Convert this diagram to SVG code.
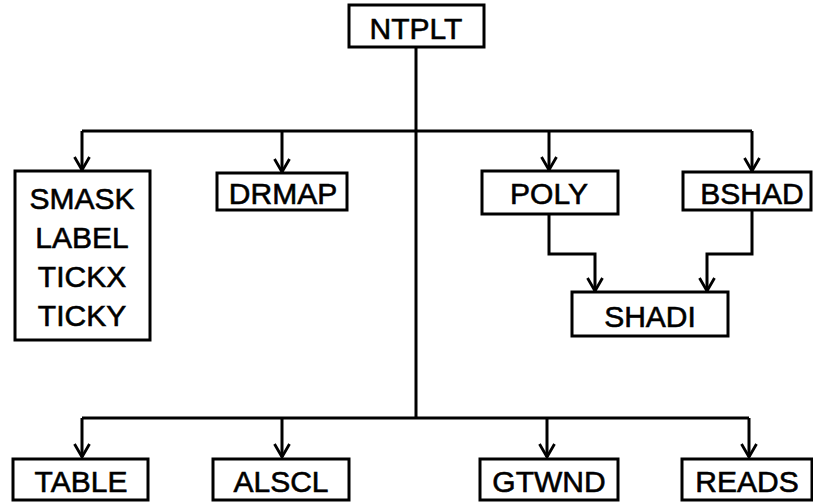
<svg xmlns="http://www.w3.org/2000/svg" width="813" height="502" viewBox="0 0 813 502">
<style>
.box{fill:#fff;stroke:#000;stroke-width:3}
.lbl{font-family:"Liberation Sans",Arial,sans-serif;font-size:30px;fill:#000;stroke:#000;stroke-width:0.6;text-anchor:middle}
.con{fill:none;stroke:#000;stroke-width:3}
</style>
<defs>
<marker id="arr" viewBox="-15 -9 17 18" refX="0" refY="0" markerWidth="17" markerHeight="18" markerUnits="userSpaceOnUse" orient="auto">
<path d="M-13,-7.5 L0,0 L-13,7.5" fill="none" stroke="#000" stroke-width="2.8"/>
</marker>
</defs>
<rect width="813" height="502" fill="#fff"/>
<g id="connectors">
<path class="con" d="M416,47 V418"/>
<path class="con" d="M82,131 H752"/>
<path class="con" d="M82,131 V170" marker-end="url(#arr)"/>
<path class="con" d="M282,131 V172" marker-end="url(#arr)"/>
<path class="con" d="M549,131 V170" marker-end="url(#arr)"/>
<path class="con" d="M752,131 V171" marker-end="url(#arr)"/>
<path class="con" d="M549,214 V254 H595 V291" marker-end="url(#arr)"/>
<path class="con" d="M752,210 V254 H707 V291" marker-end="url(#arr)"/>
<path class="con" d="M82,418 H749"/>
<path class="con" d="M82,418 V457" marker-end="url(#arr)"/>
<path class="con" d="M282,418 V457" marker-end="url(#arr)"/>
<path class="con" d="M547,418 V457" marker-end="url(#arr)"/>
<path class="con" d="M749,418 V457" marker-end="url(#arr)"/>
</g>
<g id="ntplt"><rect class="box" x="349" y="5" width="135" height="42"/><text class="lbl" x="416" y="39">NTPLT</text></g>
<g id="smask"><rect class="box" x="15" y="171" width="135" height="169"/>
<text class="lbl" x="82" y="209">SMASK</text>
<text class="lbl" x="82" y="248">LABEL</text>
<text class="lbl" x="82" y="287">TICKX</text>
<text class="lbl" x="82" y="326">TICKY</text></g>
<g id="drmap"><rect class="box" x="217" y="173" width="130" height="37"/><text class="lbl" x="283" y="204">DRMAP</text></g>
<g id="poly"><rect class="box" x="482" y="171" width="136" height="43"/><text class="lbl" x="549" y="204">POLY</text></g>
<g id="bshad"><rect class="box" x="683" y="172" width="128" height="38"/><text class="lbl" x="752" y="204">BSHAD</text></g>
<g id="shadi"><rect class="box" x="572" y="292" width="156" height="44"/><text class="lbl" x="650" y="327">SHADI</text></g>
<g id="table"><rect class="box" x="13" y="459" width="135" height="41"/><text class="lbl" x="81" y="492">TABLE</text></g>
<g id="alscl"><rect class="box" x="213" y="459" width="136" height="41"/><text class="lbl" x="281" y="492">ALSCL</text></g>
<g id="gtwnd"><rect class="box" x="480" y="459" width="138" height="41"/><text class="lbl" x="549" y="492">GTWND</text></g>
<g id="reads"><rect class="box" x="682" y="459" width="130" height="41"/><text class="lbl" x="747" y="492">READS</text></g>
</svg>
